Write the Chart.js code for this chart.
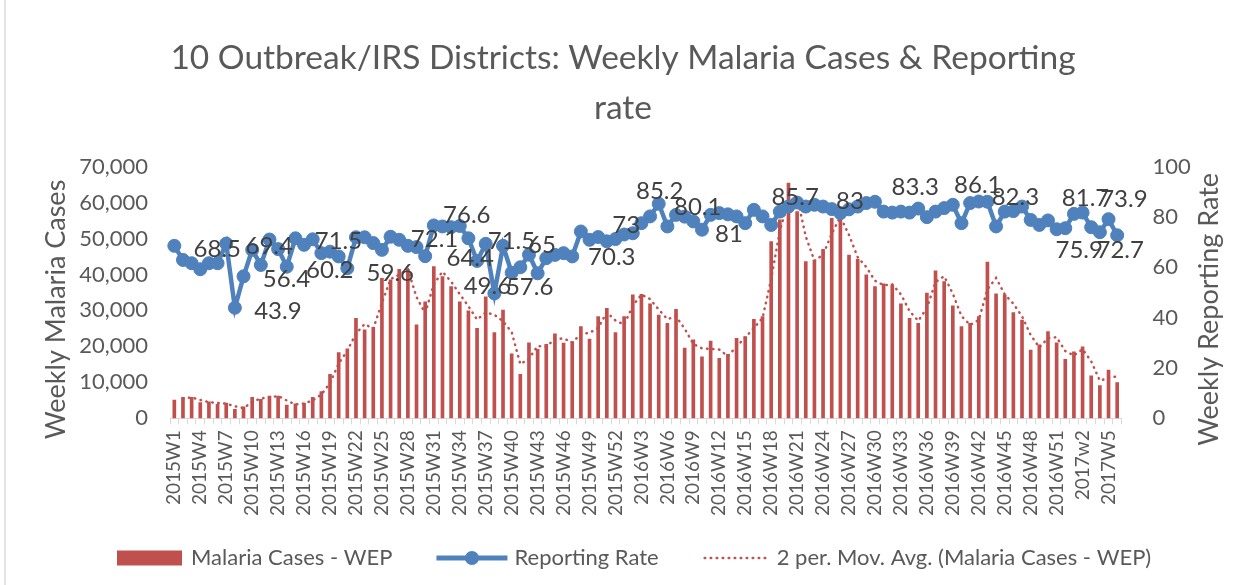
<!DOCTYPE html>
<html>
<head>
<meta charset="utf-8">
<script src="https://cdn.jsdelivr.net/npm/chart.js@4/dist/chart.umd.min.js"></script>
<style>
    body { margin: 0; background: #fff; }
    #wrap { width: 1246px; height: 585px; position: relative; }
</style>
</head>
<body>
<div id="wrap"><canvas id="malariaChart"></canvas></div>
<script>
// Week labels 2015W1 .. 2017W6 (the source writes "2017w2" in lower case)
const categories = [];
for (let w = 1; w <= 52; w++) categories.push("2015W" + w);
for (let w = 1; w <= 52; w++) categories.push("2016W" + w);
categories.push("2017W1", "2017w2", "2017W3", "2017W4", "2017W5", "2017W6");

// Weekly malaria cases
const cases2015 = [5100, 5800, 5800, 4400, 4600, 3900, 4200, 2500, 3200, 5800,
    5300, 6200, 6200, 3700, 4000, 4200, 5800, 7400, 12200, 18300,
    19300, 27800, 24600, 25300, 38900, 38500, 41400, 41400, 26000, 32400,
    42200, 39400, 36600, 32400, 29900, 25000, 33800, 23800, 30100, 17900,
    12200, 21000, 19200, 20600, 23500, 20900, 21300, 25500, 22000, 28300,
    30600, 23800];
const cases2016 = [28300, 34300, 34500, 31800, 28700, 26400, 30300, 19500, 21800, 17100,
    21500, 16700, 17800, 22200, 22700, 27500, 28300, 49100, 55200, 65400,
    57500, 43600, 44000, 47000, 55600, 56500, 45400, 44200, 39900, 36600,
    37400, 37100, 31800, 27800, 26400, 34800, 41000, 38000, 31300, 25500,
    26400, 28300, 43400, 34600, 34300, 29400, 27300, 19000, 20400, 24100,
    21000, 16400];
const cases2017 = [18500, 19900, 11800, 9100, 13400, 9900];

// Weekly reporting rate (%)
const rate2015 = [68.5, 62.9, 61.6, 59.2, 61.6, 61.6, 69.4, 43.9, 56.4, 66.9,
    60.9, 71.0, 67.2, 60.2, 71.5, 68.9, 71.1, 65.6, 66.2, 64.3,
    59.6, 71.9, 71.9, 69.6, 66.9, 72.1, 70.9, 68.5, 68.0, 64.4,
    76.6, 76.2, 75.9, 76.4, 71.5, 62.5, 69.3, 49.6, 68.5, 57.8,
    60.0, 65.0, 57.6, 63.6, 64.9, 65.6, 64.3, 74.2, 70.9, 72.0,
    70.3, 71.2];
const rate2016 = [73.0, 73.5, 77.5, 80.2, 85.2, 76.2, 80.8, 80.1, 78.2, 74.9,
    80.8, 81.5, 81.0, 80.2, 77.5, 82.8, 80.2, 76.8, 82.1, 84.1,
    85.7, 84.1, 84.8, 84.1, 83.1, 81.5, 83.0, 84.1, 85.5, 86.0,
    82.1, 81.7, 82.1, 81.7, 83.3, 79.9, 82.1, 83.5, 84.8, 77.5,
    85.5, 86.1, 86.0, 76.2, 82.1, 82.3, 84.1, 78.8, 76.8, 78.6,
    75.1, 75.5];
const rate2017 = [81.2, 81.7, 75.9, 73.9, 79.1, 72.7];

// Axis ticks
const casesTicks = [0, 10000, 20000, 30000, 40000, 50000, 60000, 70000];
const rateTicks = [0, 20, 40, 60, 80, 100];

// Points of the reporting rate that carry a value label
const labelledWeeks = [0, 6, 7, 8, 13, 14, 20, 25, 29, 30, 34, 37, 41, 42,
    50, 52, 56, 59, 64, 72, 78, 86, 93, 97, 105, 106, 107, 109];

const cases = cases2015.concat(cases2016, cases2017);
const rate = rate2015.concat(rate2016, rate2017);
// Excel's "2 per. Mov. Avg." trendline of the cases
const movAvg = cases.map((v, i) => i === 0 ? null : (v + cases[i - 1]) / 2);

const RED = "#C0504D";
const BLUE = "#4F81BD";
const GREY = "#595959";
const FONT = "Lato";

// label nudges (dx, dy in px from the point), same order as labelledWeeks
const labelShift = [[43, 3], [43, 3], [43, 3], [43, 3], [43, 4], [43, 3], [43, 5], [44, 2],
    [45, 2], [33, -10], [43, 3], [-7, -7], [13, -9], [-8, 14], [5, 16], [2, -9], [1, -13],
    [13, -9], [1, 20], [-2, -5], [1, -8], [-3, -21], [-1, -16], [2, -14], [3, -14],
    [-12, 23], [24, -33], [3, 15]];

const extras = {
    id: "extras",
    beforeDraw(chart) {
        const ctx = chart.ctx;
        ctx.save();
        ctx.fillStyle = "#fff";
        ctx.fillRect(0, 0, chart.width, chart.height);
        ctx.strokeStyle = "#D9D9D9";
        ctx.lineWidth = 1.5;
        ctx.beginPath();
        ctx.moveTo(5, 0);
        ctx.lineTo(5, chart.height);
        ctx.stroke();
        ctx.restore();
    },
    afterDatasetsDraw(chart) {
        const ctx = chart.ctx;
        const meta = chart.getDatasetMeta(1);
        ctx.save();
        ctx.font = "24px " + FONT;
        ctx.fillStyle = "#404040";
        ctx.textAlign = "center";
        ctx.textBaseline = "middle";
        labelledWeeks.forEach((idx, k) => {
            const pt = meta.data[idx];
            ctx.fillText(String(rate[idx]), pt.x + labelShift[k][0], pt.y + labelShift[k][1]);
        });
        ctx.restore();
    },
    afterDraw(chart) {
        const ctx = chart.ctx;
        const area = chart.chartArea;
        ctx.save();
        // axis titles
        ctx.fillStyle = GREY;
        ctx.font = "27px " + FONT;
        ctx.textAlign = "center";
        ctx.textBaseline = "middle";
        const midY = (area.top + area.bottom) / 2 + 17;
        [[area.left - 114, "Weekly Malaria Cases"], [area.right + 88, "Weekly Reporting Rate"]].forEach(([x, t]) => {
            ctx.save();
            ctx.translate(x, midY);
            ctx.rotate(-Math.PI / 2);
            ctx.fillText(t, 0, 0);
            ctx.restore();
        });

        // legend
        const y = 558;
        let x = 117;
        ctx.font = "22px " + FONT;
        ctx.textAlign = "left";
        ctx.fillStyle = RED;
        ctx.fillRect(x, y - 7.5, 65, 15);
        x += 74;
        ctx.fillStyle = GREY;
        ctx.fillText(chart.data.datasets[0].label, x, y);
        x += ctx.measureText(chart.data.datasets[0].label).width + 44;

        ctx.strokeStyle = BLUE;
        ctx.lineWidth = 5;
        ctx.beginPath();
        ctx.moveTo(x, y);
        ctx.lineTo(x + 71, y);
        ctx.stroke();
        ctx.fillStyle = BLUE;
        ctx.beginPath();
        ctx.arc(x + 35.5, y, 7, 0, Math.PI * 2);
        ctx.fill();
        x += 78;
        ctx.fillStyle = GREY;
        ctx.fillText(chart.data.datasets[1].label, x, y);
        x += ctx.measureText(chart.data.datasets[1].label).width + 44;

        ctx.strokeStyle = RED;
        ctx.lineWidth = 2.5;
        ctx.lineCap = "round";
        ctx.setLineDash([0.5, 5.5]);
        ctx.beginPath();
        ctx.moveTo(x + 2, y);
        ctx.lineTo(x + 64, y);
        ctx.stroke();
        ctx.setLineDash([]);
        x += 74;
        ctx.fillText(chart.data.datasets[2].label, x, y);
        ctx.restore();
    }
};

new Chart(document.getElementById("malariaChart"), {
    type: "bar",
    data: {
        labels: categories,
        datasets: [{
            type: "bar",
            label: "Malaria Cases - WEP",
            data: cases,
            backgroundColor: RED,
            barThickness: 3,
            yAxisID: "y",
            order: 3
        }, {
            type: "line",
            label: "Reporting Rate",
            data: rate,
            borderColor: BLUE,
            backgroundColor: BLUE,
            borderWidth: 4.5,
            pointRadius: 6.5,
            pointBorderWidth: 1,
            pointBackgroundColor: BLUE,
            pointBorderColor: BLUE,
            tension: 0,
            yAxisID: "y1",
            order: 1
        }, {
            type: "line",
            label: "2 per. Mov. Avg. (Malaria Cases - WEP)",
            data: movAvg,
            borderColor: RED,
            borderWidth: 2.5,
            borderDash: [0.5, 5.5],
            borderCapStyle: "round",
            pointRadius: 0,
            tension: 0,
            yAxisID: "y",
            order: 2
        }]
    },
    options: {
        responsive: true,
        maintainAspectRatio: false,
        animation: false,
        layout: { padding: 0 },
        plugins: {
            legend: { display: false },
            tooltip: { enabled: false },
            title: {
                display: true,
                text: ["10 Outbreak/IRS Districts: Weekly Malaria Cases & Reporting", "rate"],
                color: GREY,
                font: { family: FONT, size: 33.5, weight: "normal", lineHeight: 1.49 },
                padding: { top: 33, bottom: 33.7 }
            }
        },
        scales: {
            x: {
                offset: true,
                grid: { display: true, drawOnChartArea: false, drawTicks: true, tickLength: 6, color: "#D9D9D9", offset: true },
                border: { display: true, color: "#D9D9D9" },
                ticks: {
                    autoSkip: false,
                    minRotation: 90,
                    maxRotation: 90,
                    padding: 6,
                    color: GREY,
                    font: { family: FONT, size: 19 },
                    callback: function (value, index) {
                        return index % 3 === 0 ? categories[index] : "";
                    }
                },
                afterFit: (scale) => { scale.height = 166.7; }
            },
            y: {
                position: "left",
                min: casesTicks[0],
                max: casesTicks[casesTicks.length - 1],
                afterBuildTicks: (scale) => { scale.ticks = casesTicks.map(v => ({ value: v })); },
                grid: { display: false },
                border: { display: false },
                ticks: {
                    padding: 14,
                    color: GREY,
                    font: { family: FONT, size: 22 },
                    callback: (v) => v.toLocaleString("en-US")
                },
                afterFit: (scale) => { scale.width = 170; }
            },
            y1: {
                position: "right",
                min: rateTicks[0],
                max: rateTicks[rateTicks.length - 1],
                afterBuildTicks: (scale) => { scale.ticks = rateTicks.map(v => ({ value: v })); },
                grid: { display: false },
                border: { display: false },
                ticks: {
                    padding: 23,
                    color: GREY,
                    font: { family: FONT, size: 22 }
                },
                afterFit: (scale) => { scale.width = 124.5; }
            }
        }
    },
    plugins: [extras]
});
</script>
</body>
</html>
